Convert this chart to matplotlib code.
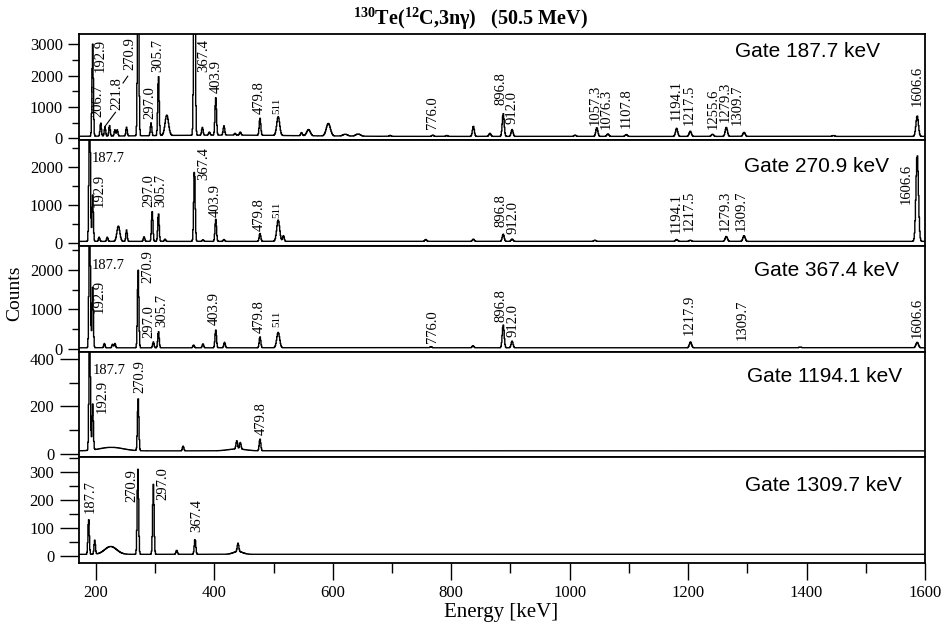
"""
Gated gamma-ray coincidence spectra, 130Te(12C,3n) at 50.5 MeV
"""

import matplotlib.pyplot as plt
import numpy as np
from matplotlib.ticker import MultipleLocator

plt.rcParams.update(
    {
        "font.family": "Liberation Serif",
        "mathtext.fontset": "custom",
        "mathtext.rm": "Liberation Serif",
        "mathtext.bf": "Liberation Serif:bold",
        "axes.linewidth": 1.3,
    }
)

# ---- spectra: peak energies [keV] and heights [counts] ----
gates = ["187.7", "270.9", "367.4", "1194.1", "1309.7"]
background = [60, 50, 30, 12, 5]

g1877_peak_e = [192.9, 206.7, 214, 221.8, 231, 235, 251, 270.9, 293, 305.7, 367.4,
                381, 393, 403.9, 418, 437, 446, 479.8, 551, 703, 776, 800, 845.6,
                874, 896.8, 912.0, 1020, 1057.3, 1076.3, 1107.8, 1194.1, 1217.5,
                1255.6, 1279.3, 1309.7, 1463, 1606.6]
g1877_peak_h = [2950, 430, 300, 340, 200, 200, 280, 6000, 410, 1940, 8000,
                250, 100, 1200, 300, 60, 100, 550, 100, 30, 40, 30, 330,
                100, 730, 220, 40, 280, 80, 60, 260, 170,
                70, 290, 130, 30, 660]
g1877_bump_e = [320, 511, 563, 597, 626, 648, 420]
g1877_bump_h = [650, 600, 200, 400, 60, 70, 40]
g1877_bump_w = [3.0, 2.5, 3.0, 3.5, 4.0, 4.0, 120]

g2709_peak_e = [187.7, 192.9, 204, 218, 251, 281, 295, 305.7, 317, 367.4, 382,
                403.9, 418, 479.8, 520, 764, 845.6, 896.8, 912.0, 1054, 1194.1,
                1217.5, 1279.3, 1309.7, 1606.6]
g2709_peak_h = [4500, 1220, 110, 110, 300, 120, 780, 740, 60, 1900, 40,
                580, 50, 210, 150, 50, 60, 190, 60, 30, 50,
                30, 130, 150, 2280]
g2709_bump_e = [237, 511]
g2709_bump_h = [400, 560]
g2709_bump_w = [2.5, 2.5]

g3674_peak_e = [187.7, 192.9, 213, 227, 231, 270.9, 297.0, 305.7, 366, 382,
                403.9, 419, 479.8, 773, 845, 896.8, 912.0, 1217.9, 1406, 1606.6]
g3674_peak_h = [4000, 1540, 110, 90, 110, 1970, 150, 420, 70, 100,
                450, 140, 280, 30, 50, 580, 170, 150, 20, 140]
g3674_bump_e = [511]
g3674_bump_h = [390]
g3674_bump_w = [2.5]

g11941_peak_e = [187.7, 192.9, 270.9, 348, 440, 446, 479.8]
g11941_peak_h = [600, 195, 220, 20, 35, 28, 50]
g11941_bump_e = [225, 440]
g11941_bump_h = [15, 8]
g11941_bump_w = [20, 15]

g13097_peak_e = [187.7, 198, 270.9, 297.0, 336.5, 367.4, 440]
g13097_peak_h = [128, 50, 305, 250, 15, 55, 30]
g13097_bump_e = [225, 440]
g13097_bump_h = [28, 10]
g13097_bump_w = [10, 8]

peak_e = [g1877_peak_e, g2709_peak_e, g3674_peak_e, g11941_peak_e, g13097_peak_e]
peak_h = [g1877_peak_h, g2709_peak_h, g3674_peak_h, g11941_peak_h, g13097_peak_h]
bump_e = [g1877_bump_e, g2709_bump_e, g3674_bump_e, g11941_bump_e, g13097_bump_e]
bump_h = [g1877_bump_h, g2709_bump_h, g3674_bump_h, g11941_bump_h, g13097_bump_h]
bump_w = [g1877_bump_w, g2709_bump_w, g3674_bump_w, g11941_bump_w, g13097_bump_w]

# ---- peak labels: (text, energy, counts at the lower end of the text) ----
labels = [
    [("192.9", 206, 2115), ("206.7", 202, 680), ("221.8", 234, 893),
     ("270.9", 256, 2170), ("297.0", 291, 628), ("305.7", 304, 2115),
     ("367.4", 384, 2115), ("403.9", 404.5, 1445), ("479.8", 479, 788),
     ("511", 508.5, 788), ("776.0", 776, 309), ("896.8", 893, 1053),
     ("912.0", 912, 447), ("1057.3", 1054, 425), ("1076.3", 1074, 309),
     ("1107.8", 1107, 330), ("1194.1", 1194, 574), ("1217.5", 1216, 415),
     ("1255.6", 1257, 309), ("1279.3", 1278, 520), ("1309.7", 1298, 415),
     ("1606.6", 1606, 1020)],
    [("192.9", 204.5, 960), ("297.0", 288.5, 960), ("305.7", 309.7, 960),
     ("367.4", 382.8, 1658), ("403.9", 402.8, 697), ("479.8", 478.8, 330),
     ("511", 508.6, 655), ("896.8", 893, 435), ("912.0", 913, 244),
     ("1194.1", 1193, 278), ("1217.5", 1216, 330), ("1279.3", 1278, 330),
     ("1309.7", 1305.6, 330), ("1606.6", 1588.6, 1030)],
    [("192.9", 204.5, 903), ("270.9", 286.8, 1662), ("297.0", 288.5, 270),
     ("305.7", 310.5, 565), ("403.9", 401.6, 607), ("479.8", 478.8, 397),
     ("511", 508.6, 565), ("776.0", 776, 143), ("896.8", 893, 690),
     ("912.0", 913, 311), ("1217.9", 1216, 354), ("1309.7", 1307, 228),
     ("1606.6", 1606, 270)],
    [("192.9", 209.6, 172), ("270.9", 273, 257), ("479.8", 481.6, 80)],
    [("187.7", 189.8, 151), ("270.9", 261.4, 193), ("297.0", 313.9, 199),
     ("367.4", 370.3, 86)],
]
# horizontal "187.7" labels: (energy at left edge, counts at text centre)
flat_labels = [None, (191.4, 2220), (191.4, 2105), (193, 352), None]

ylims = [(-57, 3320), (-68, 2705), (-68, 2610), (-16, 432), (-27, 351)]
xlims = [(169, 1620)] * 4 + [(171, 1600)]
ymajor = [1000, 1000, 1000, 200, 100]
gate_pos = [(0.947, 0.835), (0.958, 0.747), (0.969, 0.77), (0.973, 0.763), (0.973, 0.739)]

energy = np.arange(160.0, 1630.0, 1.0)  # 1 keV channels

fig = plt.figure(figsize=(9.44, 6.3), dpi=100)
left, right, top, bottom = 0.0834, 0.9799, 0.9456, 0.1059
h = (top - bottom) / 5

for i in range(5):
    ax = fig.add_axes([left, top - (i + 1) * h, right - left, h])

    counts = np.full_like(energy, background[i], dtype=float)
    for e, a in zip(peak_e[i], peak_h[i]):
        s = 1.0 + 0.0007 * e
        counts += a * np.exp(-0.5 * ((energy - e) / s) ** 2)
    for e, a, w in zip(bump_e[i], bump_h[i], bump_w[i]):
        counts += a * np.exp(-0.5 * ((energy - e) / w) ** 2)

    ax.plot(energy, counts, color="black", lw=1.0, drawstyle="steps-mid")
    ax.set_xlim(*xlims[i])
    ax.set_ylim(*ylims[i])

    for text, x, y in labels[i]:
        ax.text(x, y, text, rotation=90, ha="center", va="bottom",
                fontsize=8 if text == "511" else 10.5)
    if flat_labels[i] is not None:
        ax.text(flat_labels[i][0], flat_labels[i][1], "187.7", ha="left",
                va="center", fontsize=10.5)

    ax.text(gate_pos[i][0], gate_pos[i][1], "Gate %s keV" % gates[i],
            transform=ax.transAxes, ha="right", va="center",
            family="Liberation Sans", fontsize=15)

    ax.yaxis.set_major_locator(MultipleLocator(ymajor[i]))
    ax.yaxis.set_minor_locator(MultipleLocator(ymajor[i] / 2))
    long_ticks = i >= 3
    ax.tick_params(axis="y", which="major", direction="out",
                   length=14 if long_ticks else 8, width=1, labelsize=12)
    ax.tick_params(axis="y", which="minor", direction="out",
                   length=7 if long_ticks else 5, width=1)

    if i < 4:
        ax.set_xticks(np.arange(200, 1601, 100))
        ax.tick_params(axis="x", direction="out", length=5, width=1,
                       labelbottom=False)
    else:
        ax.xaxis.set_major_locator(MultipleLocator(200))
        ax.xaxis.set_minor_locator(MultipleLocator(100))
        ax.tick_params(axis="x", which="major", direction="out", length=12,
                       width=1, labelsize=12)
        ax.tick_params(axis="x", which="minor", direction="out", length=7, width=1)

    if i == 0:
        # leader lines for crowded labels
        ax.plot([232, 214], [830, 380], color="black", lw=0.8)
        ax.plot([245, 253], [1765, 1980], color="black", lw=0.8)

fig.text(0.498, 0.970, r"$^{\mathbf{130}}$Te($^{\mathbf{12}}$C,3nγ)   (50.5 MeV)",
         ha="center", va="center", fontsize=14.5, fontweight="bold")
fig.text(0.016, 0.535, "Counts", rotation=90, ha="center", va="center", fontsize=14)
fig.text(0.531, 0.027, "Energy [keV]", ha="center", va="center", fontsize=15)

fig.savefig("out.png", dpi=100)
